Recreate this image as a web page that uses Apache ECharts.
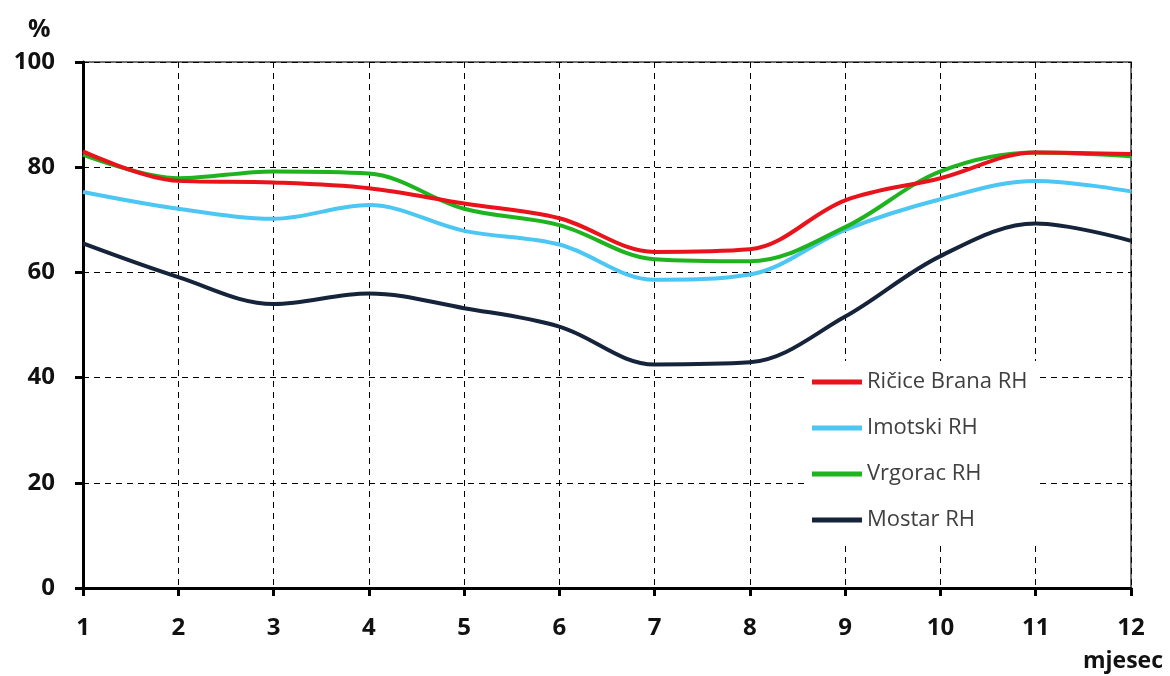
<!DOCTYPE html>
<html>
<head>
<meta charset="utf-8">
<script src="https://cdn.jsdelivr.net/npm/echarts@6/dist/echarts.min.js"></script>
<style>
  html, body { margin: 0; padding: 0; background: #fff; }
  #chart { width: 1170px; height: 676px; }
</style>
</head>
<body>
<div id="chart"></div>
<script>
// mjeseci 1..12
const months = [1, 2, 3, 4, 5, 6, 7, 8, 9, 10, 11, 12];
const seriesNames = ["Ričice Brana RH", "Imotski RH", "Vrgorac RH", "Mostar RH"];
const ricice = [83.0, 77.4, 77.1, 76.0, 73.1, 70.3, 63.9, 64.4, 73.7, 77.9, 82.8, 82.5];
const imotski = [75.3, 72.1, 70.2, 72.8, 67.9, 65.3, 58.6, 59.6, 68.1, 73.9, 77.4, 75.4];
const vrgorac = [82.4, 77.9, 79.2, 78.8, 72.1, 69.0, 62.5, 62.1, 68.6, 79.2, 82.8, 82.1];
const mostar = [65.5, 59.1, 54.0, 56.0, 53.2, 49.7, 42.5, 42.9, 51.6, 63.1, 69.3, 66.0];
const colors = ["#e8131b", "#4cc6f2", "#1fb31f", "#15243a"];

const chart = echarts.init(document.getElementById("chart"));
const font = "'Open Sans', 'Liberation Sans', sans-serif";

function mkSeries(name, vals, color, z) {
  return {
    name: name,
    type: "line",
    data: months.map((m, i) => [m, vals[i]]),
    smooth: 0.35,
    symbol: "none",
    z: z,
    lineStyle: { color: color, width: 4 },
    itemStyle: { color: color },
  };
}

chart.setOption({
  animation: false,
  title: [
    { text: "%", left: 23, top: 12, textStyle: { fontFamily: font, fontSize: 25, fontWeight: "bold", color: "#111" } },
    { text: "mjesec", right: 2, top: 645, textStyle: { fontFamily: font, fontSize: 23, fontWeight: "bold", color: "#111" } },
  ],
  grid: {
    left: 83, right: 39, top: 62, bottom: 88,
    show: true, borderColor: "#444", borderWidth: 1.5, backgroundColor: "transparent",
  },
  legend: {
    orient: "vertical",
    left: 806, top: 361,
    backgroundColor: "#fff",
    padding: [10, 10, 10, 6],
    itemGap: 24,
    itemWidth: 50,
    itemHeight: 5,
    icon: "rect",
    data: seriesNames,
    textStyle: { fontFamily: font, fontSize: 22, color: "#404040" },
  },
  xAxis: {
    type: "value",
    min: 1, max: 12, interval: 1,
    axisLine: { lineStyle: { color: "#000", width: 3 } },
    axisTick: { show: true, length: 8, lineStyle: { color: "#000", width: 3 } },
    axisLabel: { margin: 28, fontFamily: font, fontSize: 24, fontWeight: "bold", color: "#111" },
    splitLine: { show: true, lineStyle: { color: "#000", type: [6, 5], width: 1 } },
  },
  yAxis: {
    type: "value",
    min: 0, max: 100, interval: 20,
    axisLine: { show: true, lineStyle: { color: "#000", width: 3 } },
    axisTick: { show: true, length: 8, lineStyle: { color: "#000", width: 3 } },
    axisLabel: { margin: 28, fontFamily: font, fontSize: 24, fontWeight: "bold", color: "#111" },
    splitLine: { show: true, lineStyle: { color: "#000", type: [6, 5], width: 1 } },
  },
  series: [
    mkSeries(seriesNames[0], ricice, colors[0], 5),
    mkSeries(seriesNames[1], imotski, colors[1], 3),
    mkSeries(seriesNames[2], vrgorac, colors[2], 4),
    mkSeries(seriesNames[3], mostar, colors[3], 2),
  ],
});
</script>
</body>
</html>
